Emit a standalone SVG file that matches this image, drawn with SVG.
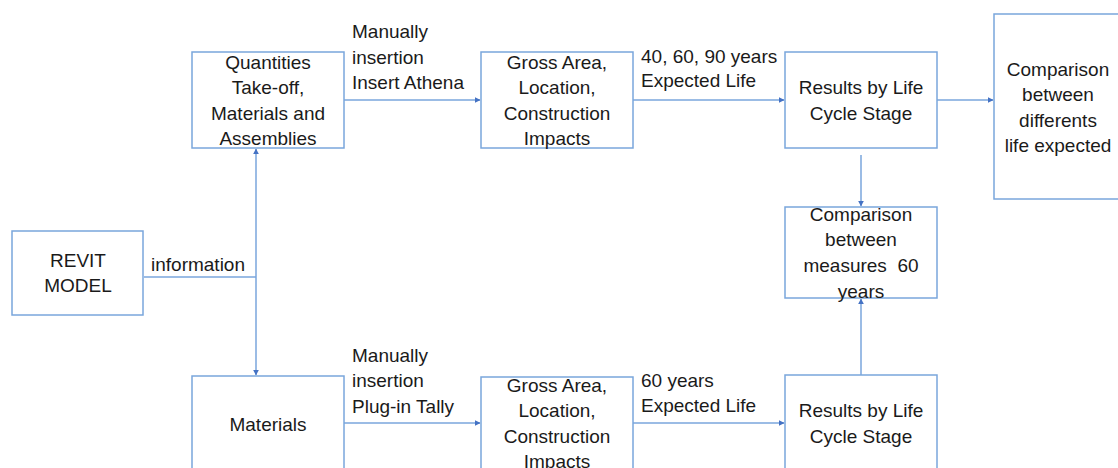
<svg xmlns="http://www.w3.org/2000/svg" width="1118" height="468" viewBox="0 0 1118 468">
<defs>
<style>
.box{fill:#fff;stroke:#7aa6dc;stroke-width:1.5}
.t{font-family:"Liberation Sans",Arial,sans-serif;font-size:19px;fill:#1a1a1a}
.c{text-anchor:middle}
.ln{stroke:#7aa6dc;stroke-width:1.5;fill:none}
</style>
<marker id="ah" viewBox="0 0 10 10" refX="9" refY="5" markerWidth="6" markerHeight="6" orient="auto-start-reverse" markerUnits="userSpaceOnUse">
<path d="M0,0 L10,5 L0,10 z" fill="#4472c4"/>
</marker>
</defs>
<rect width="1118" height="468" fill="#fff"/>
<g id="connectors">
<path class="ln" d="M344,100 H480" marker-end="url(#ah)"/>
<path class="ln" d="M633,100 H784" marker-end="url(#ah)"/>
<path class="ln" d="M937,100 H993" marker-end="url(#ah)"/>
<path class="ln" d="M861,155 V206" marker-end="url(#ah)"/>
<path class="ln" d="M861,375 V299" marker-end="url(#ah)"/>
<path class="ln" d="M144,277 H256"/>
<path class="ln" d="M256,149 V375" marker-start="url(#ah)" marker-end="url(#ah)"/>
<path class="ln" d="M344,423 H480" marker-end="url(#ah)"/>
<path class="ln" d="M633,423 H784" marker-end="url(#ah)"/>
<text class="t" x="352" y="38">Manually</text>
<text class="t" x="352" y="64">insertion</text>
<text class="t" x="352" y="89">Insert Athena</text>
<text class="t" x="641" y="63">40, 60, 90 years</text>
<text class="t" x="641" y="87">Expected Life</text>
<text class="t" x="151" y="271">information</text>
<text class="t" x="352" y="362">Manually</text>
<text class="t" x="352" y="387">insertion</text>
<text class="t" x="352" y="413">Plug-in Tally</text>
<text class="t" x="641" y="387">60 years</text>
<text class="t" x="641" y="412">Expected Life</text>
</g>
<g id="revit">
<rect class="box" x="12" y="231" width="131" height="84"/>
<text class="t c" x="78" y="267">REVIT</text>
<text class="t c" x="78" y="292">MODEL</text>
</g>
<g id="quantities">
<rect class="box" x="192" y="52" width="152" height="96"/>
<text class="t c" x="268" y="69">Quantities</text>
<text class="t c" x="268" y="94">Take-off,</text>
<text class="t c" x="268" y="120">Materials and</text>
<text class="t c" x="268" y="145">Assemblies</text>
</g>
<g id="gross-top">
<rect class="box" x="481" y="52" width="152" height="96"/>
<text class="t c" x="557" y="69">Gross Area,</text>
<text class="t c" x="557" y="94">Location,</text>
<text class="t c" x="557" y="120">Construction</text>
<text class="t c" x="557" y="145">Impacts</text>
</g>
<g id="results-top">
<rect class="box" x="785" y="52" width="152" height="96"/>
<text class="t c" x="861" y="94">Results by Life</text>
<text class="t c" x="861" y="120">Cycle Stage</text>
</g>
<g id="comparison-life">
<rect class="box" x="994" y="14" width="130" height="185"/>
<text class="t c" x="1058" y="76">Comparison</text>
<text class="t c" x="1058" y="101">between</text>
<text class="t c" x="1058" y="127">differents</text>
<text class="t c" x="1058" y="152">life expected</text>
</g>
<g id="comparison-measures">
<rect class="box" x="785" y="207" width="152" height="91"/>
<text class="t c" x="861" y="221">Comparison</text>
<text class="t c" x="861" y="246">between</text>
<text class="t c" x="861" y="272" xml:space="preserve">measures  60</text>
<text class="t c" x="861" y="298">years</text>
</g>
<g id="materials">
<rect class="box" x="192" y="376" width="152" height="110"/>
<text class="t c" x="268" y="431">Materials</text>
</g>
<g id="gross-bottom">
<rect class="box" x="481" y="377" width="152" height="110"/>
<text class="t c" x="557" y="392">Gross Area,</text>
<text class="t c" x="557" y="417">Location,</text>
<text class="t c" x="557" y="443">Construction</text>
<text class="t c" x="557" y="468">Impacts</text>
</g>
<g id="results-bottom">
<rect class="box" x="785" y="375" width="152" height="110"/>
<text class="t c" x="861" y="417">Results by Life</text>
<text class="t c" x="861" y="443">Cycle Stage</text>
</g>
</svg>
